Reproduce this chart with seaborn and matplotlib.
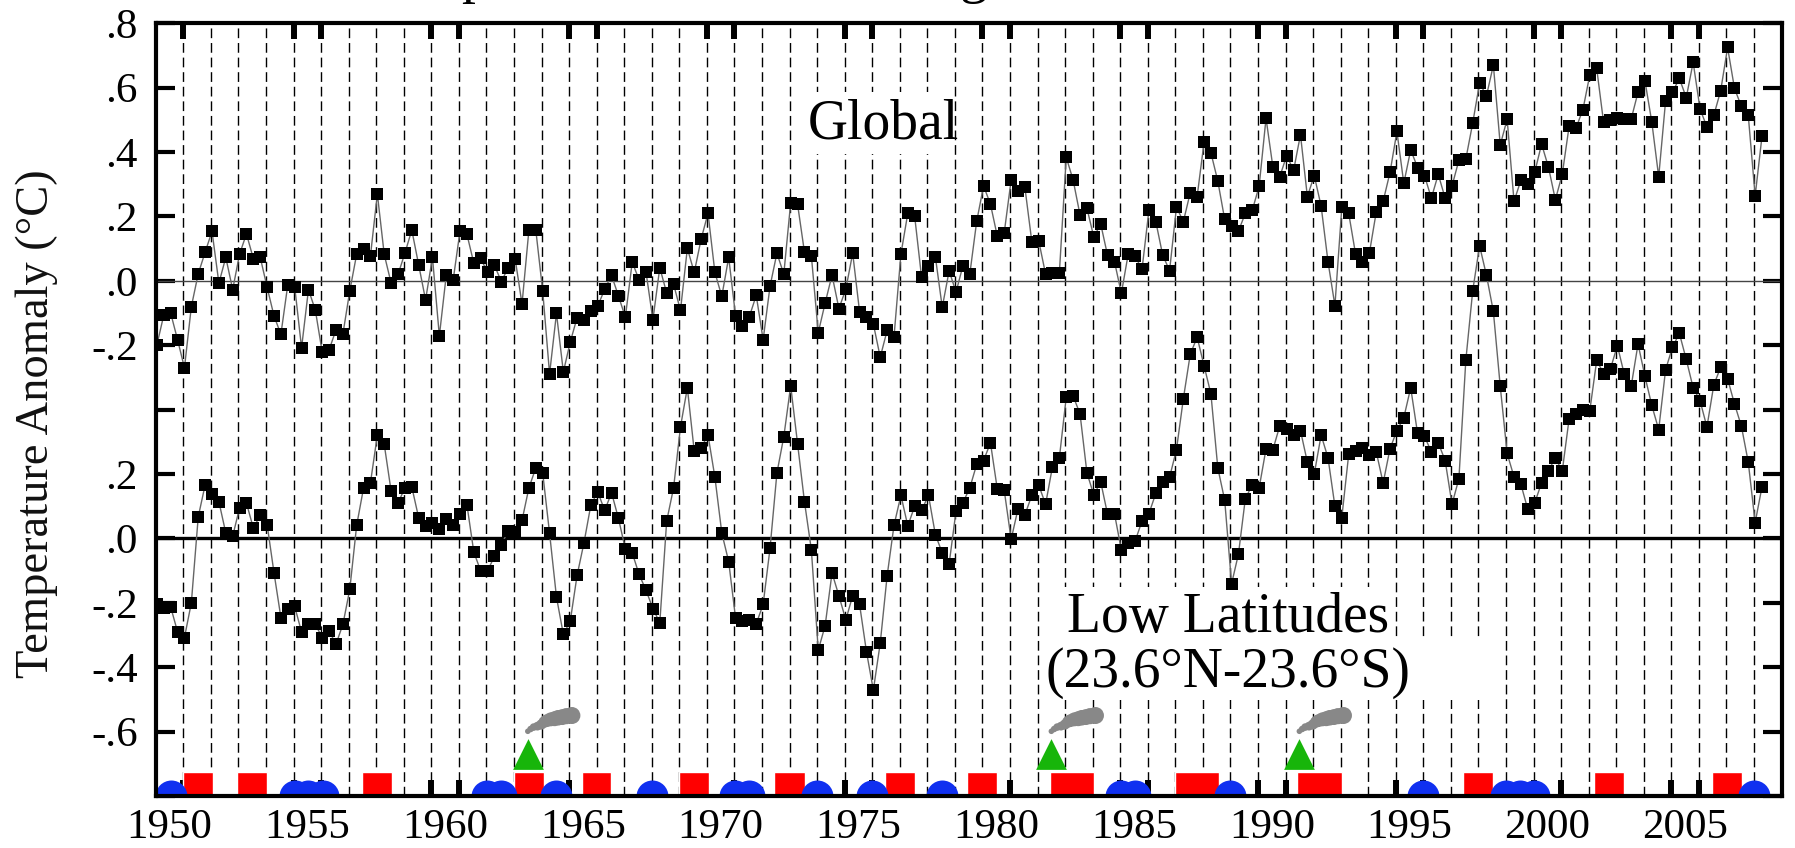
import matplotlib
matplotlib.use('Agg')
import matplotlib.pyplot as plt
import numpy as np
import seaborn as sns
from matplotlib.axes import Axes
from matplotlib.figure import Figure
from matplotlib.patches import Rectangle

# quarterly anomalies, Dec-Feb 1950 through Mar-May 2008
global_anom = [
    -.199, -.106, -.100, -.183, -.270, -.080, .022, .089, .154, -.007,
    .073, -.027, .083, .146, .069, .073, -.020, -.109, -.166, -.012,
    -.018, -.208, -.027, -.091, -.222, -.214, -.152, -.165, -.031, .083,
    .098, .078, .270, .082, -.007, .020, .086, .158, .050, -.059,
    .073, -.171, .017, .002, .155, .145, .055, .070, .026, .048,
    -.002, .041, .069, -.072, .158, .158, -.031, -.289, -.101, -.283,
    -.190, -.114, -.123, -.095, -.078, -.026, .017, -.047, -.113, .059,
    .002, .027, -.121, .041, -.038, -.010, -.092, .101, .026, .130,
    .210, .026, -.048, .073, -.109, -.140, -.111, -.045, -.183, -.017,
    .086, .021, .243, .238, .089, .078, -.161, -.069, .018, -.086,
    -.026, .086, -.096, -.111, -.134, -.237, -.154, -.173, .083, .210,
    .200, .011, .045, .075, -.082, .031, -.035, .047, .021, .185,
    .295, .238, .138, .150, .313, .278, .290, .122, .125, .021,
    .024, .024, .384, .313, .205, .226, .136, .177, .079, .060,
    -.039, .084, .076, .036, .219, .184, .080, .032, .229, .184,
    .274, .262, .430, .398, .310, .191, .169, .155, .210, .219,
    .294, .505, .353, .324, .389, .343, .454, .262, .327, .232,
    .059, -.077, .228, .210, .083, .058, .086, .214, .247, .337,
    .464, .303, .407, .352, .327, .257, .331, .257, .295, .375,
    .378, .490, .614, .575, .670, .422, .502, .247, .313, .300,
    .337, .425, .353, .252, .331, .481, .475, .532, .640, .660,
    .492, .500, .505, .502, .502, .586, .622, .493, .323, .559,
    .586, .629, .569, .679, .534, .478, .514, .591, .725, .598,
    .542, .514, .264, .450,
]
low_lat_anom = [
    -.205, -.215, -.213, -.290, -.308, -.200, .067, .166, .139, .114,
    .017, .007, .095, .110, .032, .072, .043, -.107, -.246, -.218,
    -.211, -.291, -.267, -.267, -.308, -.288, -.328, -.267, -.158, .041,
    .157, .173, .321, .292, .147, .110, .157, .160, .064, .038,
    .047, .028, .061, .043, .077, .105, -.042, -.101, -.101, -.055,
    -.019, .023, .021, .056, .157, .219, .204, .016, -.182, -.298,
    -.257, -.114, -.013, .105, .144, .087, .142, .062, -.033, -.045,
    -.112, -.161, -.218, -.262, .054, .157, .346, .468, .271, .282,
    .321, .190, .017, -.072, -.248, -.257, -.254, -.265, -.205, -.031,
    .203, .316, .474, .294, .114, -.035, -.347, -.271, -.107, -.178,
    -.253, -.178, -.205, -.352, -.471, -.325, -.116, .041, .134, .039,
    .100, .087, .134, .012, -.045, -.079, .085, .111, .157, .230,
    .242, .297, .152, .149, -.003, .092, .073, .134, .166, .106,
    .223, .250, .439, .442, .387, .204, .135, .176, .075, .077,
    -.036, -.013, -.008, .054, .077, .140, .175, .190, .276, .434,
    .572, .625, .537, .449, .219, .119, -.141, -.048, .124, .166,
    .157, .278, .276, .350, .340, .320, .335, .237, .200, .321,
    .250, .100, .065, .261, .271, .282, .258, .269, .172, .279,
    .335, .375, .468, .326, .317, .269, .297, .242, .106, .186,
    .553, .769, .909, .817, .705, .472, .264, .191, .168, .090,
    .110, .173, .211, .250, .209, .372, .387, .399, .397, .553,
    .512, .527, .599, .510, .472, .604, .504, .413, .338, .524,
    .594, .637, .556, .468, .428, .346, .477, .532, .496, .418,
    .349, .237, .049, .161,
]
quarter_years = [1950.04 + 0.25 * i for i in range(len(global_anom))]

el_nino_start = [1951.0, 1952.96, 1957.47, 1963.0, 1965.45, 1968.98, 1972.45, 1976.46,
                 1979.43, 1982.46, 1986.98, 1991.43, 1997.43, 2002.18, 2006.47]
el_nino_end = [1952.07, 1954.04, 1958.57, 1964.08, 1966.53, 1970.07, 1973.55, 1977.56,
               1980.53, 1984.06, 1988.57, 1993.03, 1998.54, 2003.27, 2007.56]
la_nina_years = [1950.55, 1955.04, 1955.52, 1956.05, 1962.02, 1962.53, 1964.51, 1968.02,
                 1971.02, 1971.52, 1974.0, 1976.0, 1978.52, 1985.01, 1985.53, 1989.0,
                 1996.0, 1999.0, 1999.51, 2000.0, 2008.0]
volcano_years = [1963.5, 1982.5, 1991.5]

# smoke plume puffs, relative to the volcano
plume_dx = [0, .1, .21, .35, .49, .6, .69, .83, .97, 1.1, 1.25, 1.4, 1.6]
plume_y = [-1.399, -1.392, -1.386, -1.383, -1.378, -1.37, -1.366, -1.362, -1.36, -1.357, -1.355, -1.352, -1.35]
plume_size = [16, 22, 30, 40, 55, 70, 85, 100, 115, 125, 130, 135, 150]

y_ticks = [.8, .6, .4, .2, 0, -.2, -.4, -.6, -.8, -1, -1.2, -1.4, -1.6]
y_labels = ['.8', '.6', '.4', '.2', '.0', '-.2', '', '.2', '.0', '-.2', '-.4', '-.6', '']
label_years = list(range(1950, 2006, 5))

LOW_LAT_OFFSET = -0.8
Y_MIN, Y_MAX = -1.6, 0.8
X_MIN, X_MAX = 1950, 2009
SERIF = 'Liberation Serif'


def plot_series(ax: Axes) -> None:
    """Draws both anomaly curves, the lower one shifted down by the offset."""
    shifted = [v + LOW_LAT_OFFSET for v in low_lat_anom]
    for values in (global_anom, shifted):
        sns.lineplot(
            x=quarter_years, y=values, ax=ax, estimator=None, sort=False,
            color='#666666', linewidth=1.0, marker='s', markersize=9,
            markerfacecolor='black', markeredgecolor='black',
            markeredgewidth=0, zorder=4
        )
    ax.axhline(0, color='#444444', linewidth=1.0, zorder=2)
    ax.axhline(LOW_LAT_OFFSET, color='black', linewidth=2.4, zorder=2)


def plot_year_lines(ax: Axes) -> None:
    """Draws the dashed line at every year boundary."""
    for year in range(X_MIN + 1, X_MAX):
        ax.axvline(year, color='black', linewidth=1.0, dashes=(7, 3.5), zorder=1)


def plot_events(ax: Axes) -> None:
    """Draws El Nino, La Nina and volcano symbols along the bottom."""
    starts = np.array(el_nino_start)
    widths = np.array(el_nino_end) - starts
    ax.bar(starts, 0.075, width=widths, bottom=Y_MIN, align='edge', color='#ff0000', zorder=3)
    ax.scatter(la_nina_years, [Y_MIN] * len(la_nina_years), s=530, color='#1030f0',
               linewidths=0, zorder=3.2)
    ax.scatter(volcano_years, [-1.47] * len(volcano_years), marker='^', s=490,
               color='#17b50a', linewidths=0, zorder=3.4)
    for year in volcano_years:
        ax.scatter([year + dx for dx in plume_dx], plume_y, s=plume_size, color='#888888',
                   linewidths=0, zorder=3.4)


def add_labels(fig: Figure, ax: Axes) -> None:
    """Adds the series names on white patches that interrupt the dashed lines."""
    for x0, x1, y0, y1 in [(1973.2, 1978.6, .394, .587),
                           (1982.9, 1994.85, -1.105, -.95),
                           (1982.1, 1998.7, -1.303, -1.105)]:
        ax.add_patch(Rectangle((x0, y0), x1 - x0, y1 - y0, color='white', zorder=1.5, linewidth=0))
    for x, y, label in [(1976.39, .441, 'Global'),
                        (1988.9, -1.09, 'Low Latitudes'),
                        (1988.9, -1.261, '(23.6°N-23.6°S)')]:
        ax.text(x, y, label, family=SERIF, fontsize=40, color='black',
                ha='center', va='baseline', zorder=5)
    # descenders of the title that is cut off at the top edge
    for x_px, letter in [(475, 'p'), (974, 'g')]:
        fig.text(x_px / 1795, 1 + 8 / 848, letter, family=SERIF, fontsize=40, color='black',
                 ha='center', va='baseline')


def style_axes(fig: Figure, ax: Axes) -> None:
    """Sets limits, ticks and the heavy frame."""
    ax.set_xlim(X_MIN, X_MAX)
    ax.set_ylim(Y_MIN, Y_MAX)

    major = sorted({y for base in label_years for y in (base, base + 1)} - {X_MIN})
    ax.set_xticks(major)
    ax.set_xticklabels([])
    ax.set_xticks([y + .5 for y in label_years], minor=True)
    ax.set_xticklabels([str(y) for y in label_years], minor=True, family=SERIF, fontsize=31)
    ax.tick_params(axis='x', which='major', direction='in', top=True, bottom=True,
                   length=11.5, width=4.3, color='black')
    ax.tick_params(axis='x', which='minor', length=0, pad=9, labelcolor='black')

    ax.set_yticks(y_ticks)
    ax.set_yticklabels(y_labels, family=SERIF, fontsize=31)
    ax.tick_params(axis='y', direction='in', left=True, right=True,
                   length=13.7, width=3, pad=13, color='black', labelcolor='black')

    ax.grid(False)
    for side in ['bottom', 'top', 'left', 'right']:
        ax.spines[side].set_visible(True)
        ax.spines[side].set_color('black')
        ax.spines[side].set_linewidth(3)
        ax.spines[side].set_zorder(10)

    fig.text(37 / 1795, 1 - 424 / 848, 'Temperature Anomaly (°C)', family=SERIF, fontsize=33.5,
             color='#111111', rotation=90, ha='center', va='center')


def main() -> None:
    sns.set_theme(style='white')
    fig = plt.figure(figsize=(17.95, 8.48), dpi=100)
    ax = fig.add_axes([155.8 / 1795, 1 - 796 / 848, (1781.6 - 155.8) / 1795, (796 - 23.3) / 848])

    plot_year_lines(ax)
    plot_series(ax)
    plot_events(ax)
    add_labels(fig, ax)
    style_axes(fig, ax)

    fig.savefig('out.png', dpi=100, facecolor='white')


main()
